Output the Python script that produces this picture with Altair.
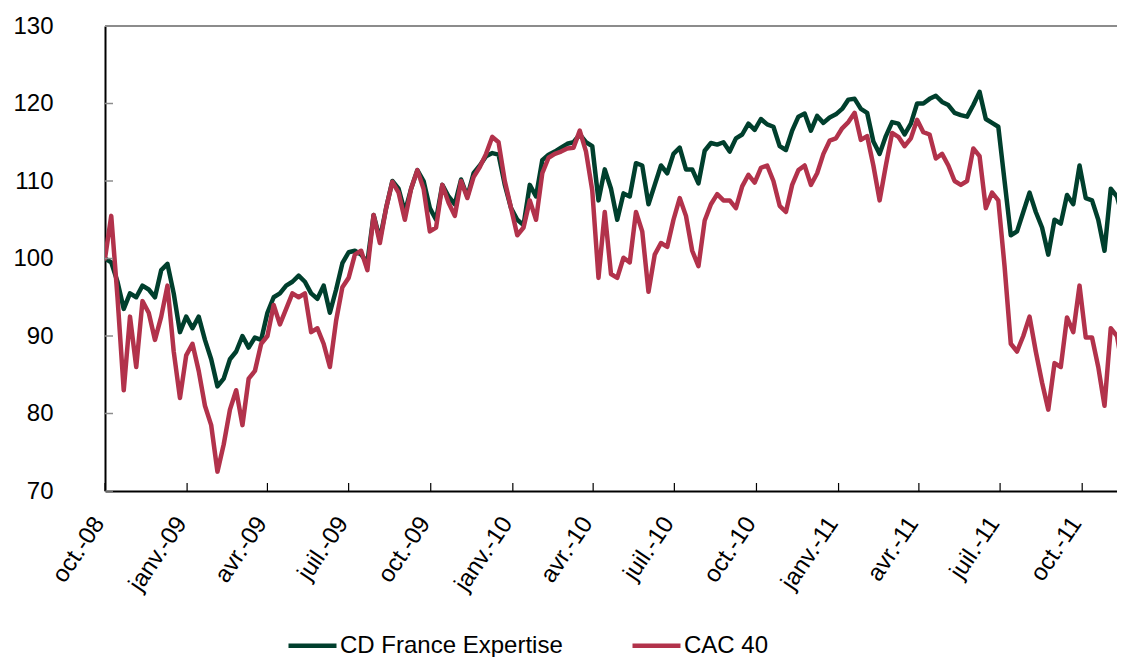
import altair as alt
import pandas as pd

# weekly observations starting 1 Oct 2008
dates = pd.date_range("2008-10-01", periods=164, freq="7D").strftime("%Y-%m-%d").tolist()

cd_france = [
    100, 99.5, 97, 93.5, 95.5, 95, 96.5, 96, 95, 98.5,
    99.3, 95.5, 90.5, 92.5, 91, 92.5, 89.5, 87, 83.5, 84.5,
    87, 88, 90, 88.5, 89.8, 89.5, 93, 95, 95.5, 96.5,
    97, 97.8, 97, 95.5, 94.8, 96.5, 93, 96, 99.4, 100.8,
    101, 100.5, 99.5, 105.6, 102.5, 106.5, 110, 109, 106, 109,
    111.4, 110, 106.5, 105, 109.5, 108, 107, 110.2, 108, 111,
    112, 113.2, 113.6, 113.4, 109.5, 106.5, 105, 104.3, 109.5, 108,
    112.7, 113.4, 113.8, 114.3, 114.8, 115, 116, 115, 114.5, 107.5,
    111.5, 109, 105, 108.4, 108, 112.3, 112, 107, 109.5, 112,
    111, 113.5, 114.3, 111.5, 111.5, 109.7, 113.9, 114.9, 114.7, 115,
    113.8, 115.5, 116, 117.4, 116.6, 118, 117.3, 117, 114.5, 114,
    116.5, 118.3, 118.7, 116.5, 118.4, 117.5, 118.2, 118.6, 119.3, 120.5,
    120.6, 119.3, 118.8, 115.1, 113.5, 115.8, 117.6, 117.4, 116, 117.4,
    120, 120, 120.6, 121, 120.2, 119.8, 118.8, 118.5, 118.3, 119.8,
    121.5, 118, 117.5, 117, 110, 103, 103.5, 106, 108.5, 106,
    104, 100.5, 105, 104.5, 108.2, 107, 112, 107.8, 107.5, 105,
    101, 109, 108, 105,
]

cac40 = [
    100, 105.5, 95, 83, 92.5, 86, 94.5, 93, 89.5, 92.5,
    96.5, 88, 82, 87.5, 89, 85.5, 81, 78.5, 72.5, 76,
    80.5, 83, 78.5, 84.5, 85.5, 89, 90, 94, 91.5, 93.5,
    95.5, 95, 95.5, 90.5, 91, 89, 86, 92, 96.3, 97.5,
    100.5, 101, 98.5, 105.6, 102, 106.5, 109.9, 108.5, 105, 109,
    111.4, 109, 103.5, 104, 109.5, 107.2, 105.5, 110, 107.8, 110.5,
    111.8, 113.5, 115.7, 115, 110, 106.5, 103, 104, 107.5, 105,
    111, 113, 113.5, 113.8, 114.2, 114.3, 116.5, 113.8, 108.8, 97.5,
    106, 98, 97.5, 100.1, 99.5, 106, 103.5, 95.7, 100.5, 102,
    101.5, 105, 107.8, 105.5, 101, 99, 104.9, 107, 108.3, 107.5,
    107.5, 106.5, 109.3, 110.8, 109.8, 111.7, 112, 110, 106.8, 106,
    109.5, 111.4, 112, 109.5, 111, 113.5, 115.2, 115.5, 116.8, 117.6,
    118.8, 115.3, 115.8, 112, 107.5, 112, 116.2, 115.7, 114.5, 115.5,
    117.9, 116.3, 116, 112.9, 113.5, 112, 110, 109.5, 110, 114.2,
    113.2, 106.5, 108.5, 107.5, 99, 89, 88, 90, 92.5, 88,
    84, 80.5, 86.5, 86, 92.4, 90.5, 96.5, 89.8, 89.8, 86,
    81, 91, 90, 85.3,
]

series_names = ["CD France Expertise", "CAC 40"]
series_colors = ["#003F2D", "#B2324B"]

tick_dates = ["2008-10-01", "2009-01-01", "2009-04-01", "2009-07-01", "2009-10-01",
              "2010-01-01", "2010-04-01", "2010-07-01", "2010-10-01",
              "2011-01-01", "2011-04-01", "2011-07-01", "2011-10-01"]
tick_labels = ["oct.-08", "janv.-09", "avr.-09", "juil.-09", "oct.-09",
               "janv.-10", "avr.-10", "juil.-10", "oct.-10",
               "janv.-11", "avr.-11", "juil.-11", "oct.-11"]
y_ticks = [70, 80, 90, 100, 110, 120, 130]

rows = []
for name, vals in zip(series_names, [cd_france, cac40]):
    for d, v in zip(dates, vals):
        rows.append({"date": d, "value": v, "serie": name})
df = pd.DataFrame(rows)


def dt(s):
    y, m, d = (int(p) for p in s.split("-"))
    return alt.DateTime(year=y, month=m, date=d, utc=True)


keys = ",".join("'" + d[:7] + "'" for d in tick_dates)
labs = ",".join("'" + l + "'" for l in tick_labels)
label_expr = f"[{labs}][indexof([{keys}], utcFormat(datum.value, '%Y-%m'))]"

FONT = "Liberation Sans"
PW, PH = 1012, 465

x_scale = alt.Scale(type="utc", domain=[dt("2008-10-01"), dt("2011-11-09")])
y_scale = alt.Scale(domain=[70, 130], nice=False, zero=False)

x_axis = alt.Axis(values=[dt(d) for d in tick_dates], labelExpr=label_expr, title=None,
                  tickSize=0, grid=False, domainColor="#000000", domainWidth=2,
                  labelAngle=-56, labelAlign="right", labelBaseline="middle",
                  labelPadding=28, labelOffset=-6, labelFont=FONT, labelFontSize=24,
                  labelColor="#000000", labelOverlap=False, labelBound=False, labelFlush=False)
y_axis = alt.Axis(values=y_ticks, title=None, tickSize=0, grid=False,
                  domainColor="#000000", domainWidth=2, labelPadding=52,
                  labelFont=FONT, labelFontSize=24, labelColor="#000000")

lines = alt.Chart(df).mark_line(strokeWidth=4.5, strokeJoin="round", strokeCap="round", clip=True).encode(
    x=alt.X("date:T", scale=x_scale, axis=x_axis),
    y=alt.Y("value:Q", scale=y_scale, axis=y_axis),
    color=alt.Color("serie:N", scale=alt.Scale(domain=series_names, range=series_colors),
                    sort=series_names,
                    legend=alt.Legend(title=None, orient="none", legendX=181, legendY=593,
                                      direction="horizontal", symbolType="stroke",
                                      symbolSize=2304, symbolStrokeWidth=4.5,
                                      labelFont=FONT, labelFontSize=24, labelColor="#000000",
                                      labelLimit=0, labelOffset=1, columnPadding=60, padding=0)),
)

top_line = alt.Chart(pd.DataFrame({"v": [130]})).mark_rule(color="#8c8c8c", strokeWidth=2).encode(
    y=alt.Y("v:Q", scale=y_scale, axis=y_axis)
)

y_tick_marks = alt.Chart(pd.DataFrame({"v": y_ticks})).mark_rule(color="#8c8c8c", strokeWidth=1.5).encode(
    y=alt.Y("v:Q", scale=y_scale, axis=y_axis), x=alt.value(0), x2=alt.value(8)
)

x_tick_marks = alt.Chart(pd.DataFrame({"d": tick_dates})).mark_rule(color="#000000", strokeWidth=1.2).encode(
    x=alt.X("d:T", scale=x_scale, axis=x_axis), y=alt.value(PH), y2=alt.value(PH - 8)
)

chart = alt.layer(top_line, lines, y_tick_marks, x_tick_marks).properties(
    width=PW, height=PH,
    autosize=alt.AutoSizeParams(type="none"),
    padding={"left": 97, "top": 18, "right": 0, "bottom": 166},
).configure_view(stroke=None).configure(background="#ffffff")

chart.save("out.html", embed_options={"renderer": "svg", "actions": False})
